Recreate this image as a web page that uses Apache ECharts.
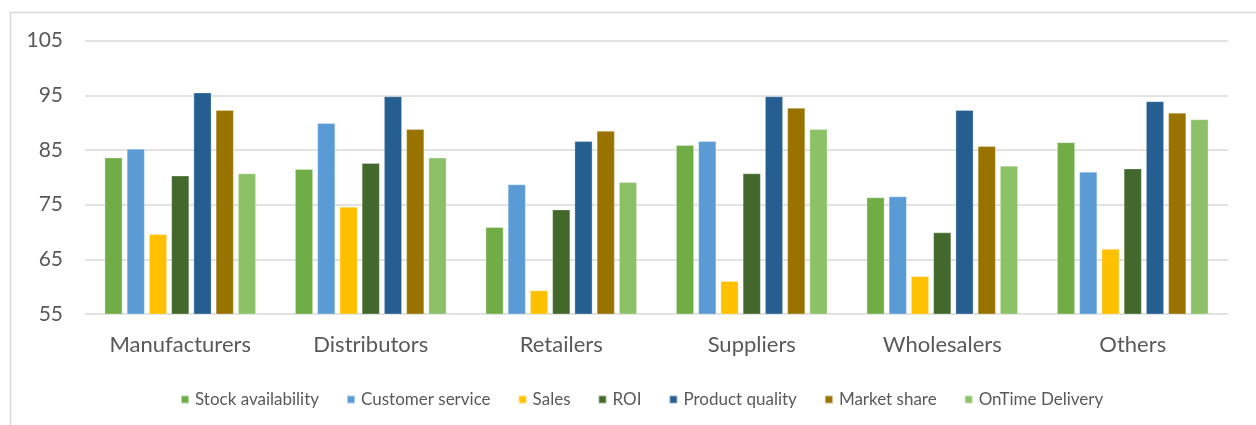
<!DOCTYPE html>
<html>
<head>
<meta charset="utf-8">
<script src="https://cdn.jsdelivr.net/npm/echarts@6/dist/echarts.min.js"></script>
<style>
  html, body { margin: 0; padding: 0; background: #ffffff; }
  #chart { width: 1256px; height: 425px; }
</style>
</head>
<body>
<div id="chart"></div>
<script>
// Supply-chain partner ratings by criterion
const categories = ['Manufacturers', 'Distributors', 'Retailers', 'Suppliers', 'Wholesalers', 'Others'];

const stockAvailability = [83.6, 81.5, 70.9, 85.9, 76.3, 86.4];
const customerService   = [85.2, 89.9, 78.7, 86.6, 76.5, 81.0];
const sales             = [69.6, 74.6, 59.3, 61.0, 61.9, 66.9];
const roi               = [80.3, 82.6, 74.1, 80.7, 69.9, 81.6];
const productQuality    = [95.5, 94.8, 86.6, 94.8, 92.3, 93.9];
const marketShare       = [92.3, 88.8, 88.5, 92.7, 85.7, 91.8];
const onTimeDelivery    = [80.7, 83.6, 79.1, 88.8, 82.1, 90.6];

const yTicks = [55, 65, 75, 85, 95, 105];

const seriesDefs = [
  { name: 'Stock availability', data: stockAvailability, color: '#70AD47' },
  { name: 'Customer service',   data: customerService,   color: '#5B9BD5' },
  { name: 'Sales',              data: sales,             color: '#FFC000' },
  { name: 'ROI',                data: roi,               color: '#43682B' },
  { name: 'Product quality',    data: productQuality,    color: '#255E91' },
  { name: 'Market share',       data: marketShare,       color: '#997300' },
  { name: 'OnTime Delivery',    data: onTimeDelivery,    color: '#8CC168' }
];

const FONT = 'Lato, "Open Sans", sans-serif';
const TEXT = '#595959';
const GRID = '#d9d9d9';

const chart = echarts.init(document.getElementById('chart'), null, { renderer: 'canvas' });

chart.setOption({
  animation: false,
  backgroundColor: '#ffffff',
  graphic: [{
    type: 'rect',
    left: 8, top: 10,
    shape: { x: 0, y: 0, width: 1270, height: 440 },
    style: { fill: 'none', stroke: GRID, lineWidth: 1.5 },
    silent: true, z: -1
  }],
  grid: { left: 85, right: 28, top: 40.7, bottom: 111, containLabel: false },
  legend: {
    left: 175, top: 386,
    itemWidth: 8, itemHeight: 8, itemGap: 27,
    icon: 'rect',
    textStyle: { fontFamily: FONT, fontSize: 17, color: TEXT, padding: [0, 0, 0, 1] },
    data: seriesDefs.map(s => s.name)
  },
  xAxis: {
    type: 'category',
    data: categories,
    axisLine: { show: false },
    axisTick: { show: false },
    axisLabel: { fontFamily: FONT, fontSize: 22, color: TEXT, margin: 20 }
  },
  yAxis: {
    type: 'value',
    min: yTicks[0],
    max: yTicks[yTicks.length - 1],
    interval: 10,
    axisLine: { show: false },
    axisTick: { show: false },
    axisLabel: { fontFamily: FONT, fontSize: 21, color: TEXT, margin: 22 },
    splitLine: { lineStyle: { color: GRID, width: 1.5 } }
  },
  series: seriesDefs.map(s => ({
    name: s.name,
    type: 'bar',
    data: s.data,
    barCategoryGap: '20.6%',
    barGap: '25%',
    itemStyle: { color: s.color, borderColor: 'rgba(255,255,255,0.5)', borderWidth: 0.6 }
  }))
});
</script>
</body>
</html>
